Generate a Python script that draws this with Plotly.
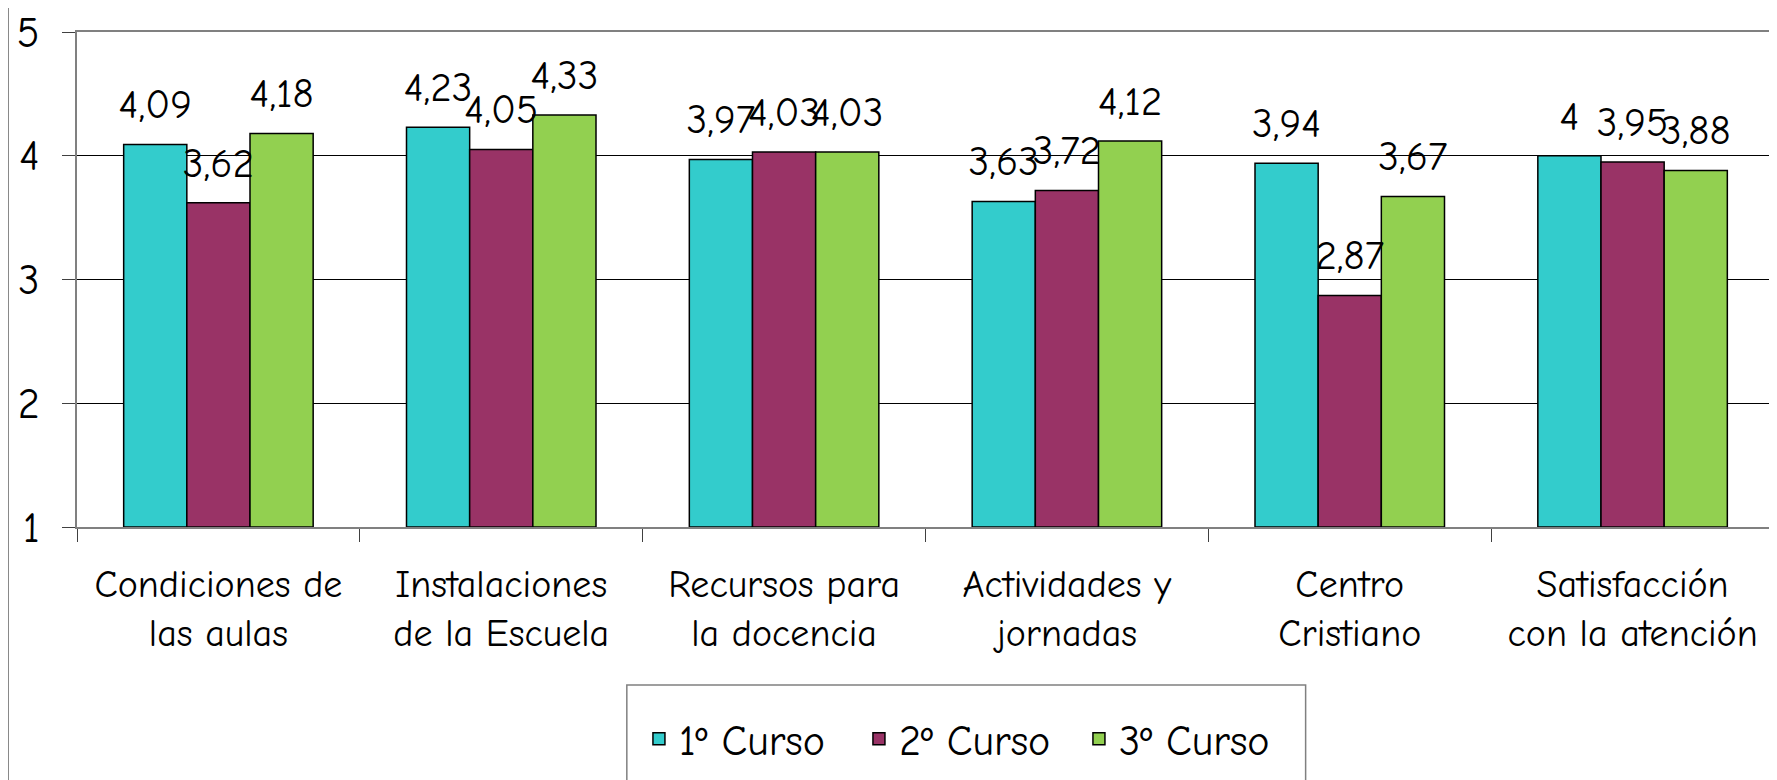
import plotly.graph_objects as go

categories = ["Condiciones de<br>las aulas", "Instalaciones<br>de la Escuela", "Recursos para<br>la docencia",
              "Actividades y<br>jornadas", "Centro<br>Cristiano", "Satisfacción<br>con la atención"]
series_names = ["1º Curso", "2º Curso", "3º Curso"]
curso1 = [4.09, 4.23, 3.97, 3.63, 3.94, 4.00]
curso2 = [3.62, 4.05, 4.03, 3.72, 2.87, 3.95]
curso3 = [4.18, 4.33, 4.03, 4.12, 3.67, 3.88]
colors = ["#33CCCC", "#993366", "#92D050"]
y_ticks = [1, 2, 3, 4, 5]

FONT = "Comic Sans MS, Comic Neue, DejaVu Sans, sans-serif"
GAP = 0.33

def fmt(v):
    return f"{v:g}".replace(".", ",")

fig = go.Figure()
for name, vals, col in zip(series_names, [curso1, curso2, curso3], colors):
    fig.add_trace(go.Bar(
        x=categories, y=[v - 1 for v in vals], base=1, name=name, offsetgroup=name,
        marker=dict(color=col, line=dict(color="black", width=1.5)),
        hoverinfo="skip",
    ))
for name, vals in zip(series_names, [curso1, curso2, curso3]):
    fig.add_trace(go.Scatter(
        x=categories, y=vals, mode="markers+text", offsetgroup=name,
        text=[fmt(v) for v in vals], textposition="top center",
        textfont=dict(family=FONT, size=41, color="black"),
        marker=dict(size=24, opacity=0), showlegend=False, hoverinfo="skip", cliponaxis=False,
    ))

fig.update_layout(
    width=1769, height=772,
    margin=dict(l=69, r=3, t=24, b=253, autoexpand=False),
    paper_bgcolor="white", plot_bgcolor="white",
    barmode="group", bargap=GAP, scattermode="group", scattergap=GAP,
    font=dict(family=FONT, size=40, color="black"),
    showlegend=True,
    legend=dict(orientation="h", x=0.5256, xanchor="center", y=-0.428, yanchor="middle",
                font=dict(family=FONT, size=42, color="black"), bgcolor="rgba(0,0,0,0)",
                borderwidth=0, entrywidth=175, entrywidthmode="pixels"),
    xaxis=dict(type="category", showline=True, linecolor="#808080", linewidth=2, mirror=True,
               ticks="outside", tickson="boundaries", ticklen=13, tickcolor="#404040",
               ticklabelstandoff=22, automargin=False,
               tickfont=dict(family=FONT, size=38, color="black")),
    yaxis=dict(range=[1, 5], tickvals=y_ticks, showgrid=True, gridcolor="black", gridwidth=1,
               showline=True, linecolor="#808080", linewidth=2, mirror=True,
               ticks="outside", ticklen=13, tickcolor="#404040",
               ticklabelstandoff=14, automargin=False,
               tickfont=dict(family=FONT, size=42, color="black"),
               zeroline=False),
    shapes=[
        dict(type="line", xref="paper", yref="paper", x0=-0.0407, x1=-0.0407, y0=-0.6, y1=1.2,
             line=dict(color="#808080", width=2)),
        dict(type="rect", xref="paper", yref="paper", x0=0.324, x1=0.724, y0=-0.6, y1=-0.319,
             line=dict(color="#808080", width=1.5), fillcolor="rgba(0,0,0,0)"),
    ],
)

fig.write_html("out.html")
